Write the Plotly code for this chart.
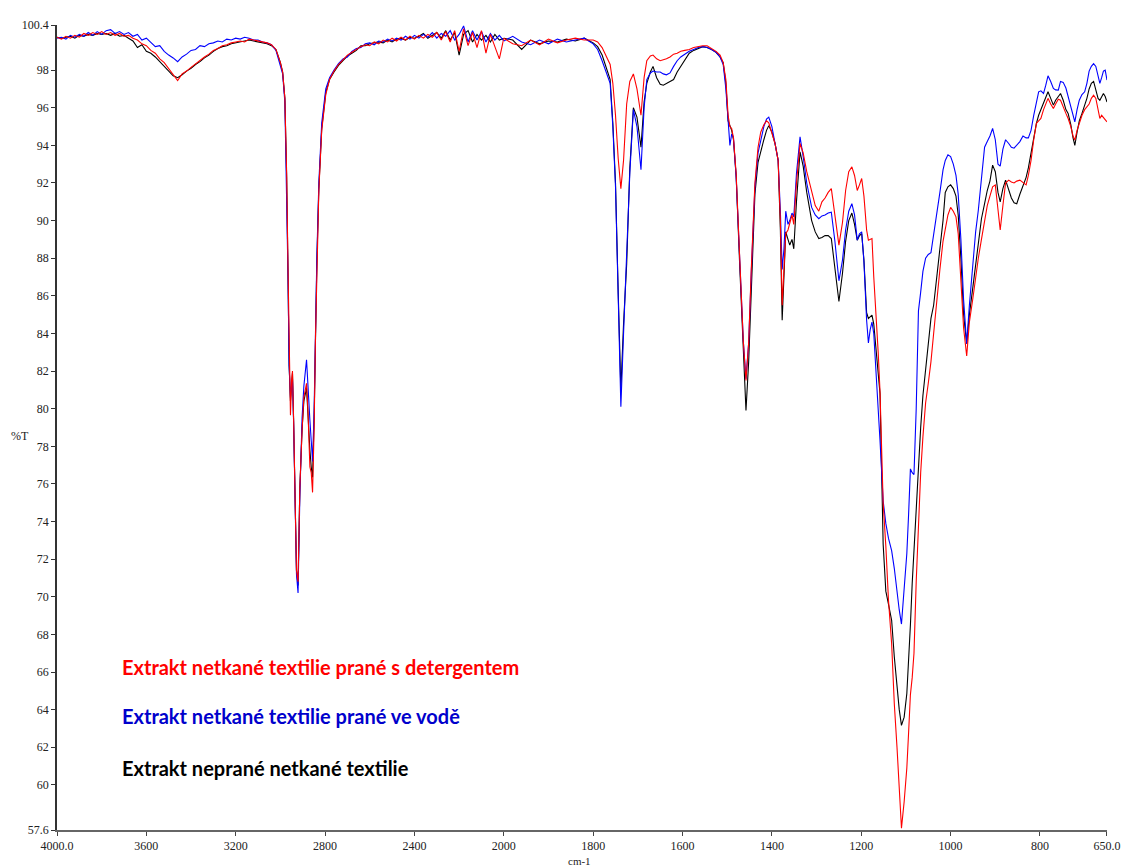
import plotly.graph_objects as go

# ---------------- data ----------------
wavenumber = [
    # 4000-3000
    4000, 3980, 3960, 3940, 3920, 3900, 3880, 3860, 3840, 3820,
    3800, 3780, 3760, 3740, 3720, 3700, 3680, 3660, 3640, 3620,
    3600, 3580, 3560, 3540, 3520, 3500, 3480, 3460, 3440, 3420,
    3400, 3380, 3360, 3340, 3320, 3300, 3280, 3260, 3240, 3220,
    3200, 3180, 3160, 3140, 3120, 3100, 3080, 3060, 3040, 3020, 3000,
    # 3000-2800
    2990, 2980, 2972, 2966, 2961, 2955, 2950, 2946, 2941, 2936,
    2928, 2921, 2913, 2903, 2895, 2883, 2877, 2868, 2862, 2856,
    2849, 2843, 2837, 2828, 2815, 2797,
    # 2800-2000
    2780, 2760, 2740, 2720, 2700, 2680, 2660, 2640, 2620, 2600,
    2580, 2560, 2540, 2520, 2500, 2480, 2460, 2440, 2420, 2400,
    2380, 2360, 2340, 2320, 2300, 2280, 2260, 2240, 2220, 2200,
    2180, 2160, 2140, 2120, 2100, 2080, 2060, 2040, 2020, 2000,
    # 2000-1800
    1980, 1960, 1940, 1920, 1900, 1880, 1860, 1840, 1820,
    # 1800-650
    1800, 1790, 1780, 1770, 1762, 1756, 1750, 1744, 1738, 1732,
    1725, 1718, 1710, 1702, 1693, 1686, 1680, 1672, 1666, 1658,
    1650, 1643, 1636, 1628, 1620, 1612, 1604, 1595, 1585, 1575,
    1565, 1555, 1545, 1535, 1525, 1516, 1509, 1503, 1498, 1494,
    1490, 1486, 1480, 1472, 1464, 1458, 1452, 1446, 1438, 1431,
    1425, 1418, 1412, 1407, 1400, 1393, 1386, 1381, 1377, 1373,
    1369, 1364, 1360, 1355, 1351, 1345, 1337, 1330, 1322, 1311,
    1303, 1295, 1288, 1281, 1274, 1267, 1259, 1250, 1242, 1235,
    1228, 1221, 1215, 1209, 1204, 1199, 1194, 1188, 1184, 1180,
    1176, 1172, 1167, 1162, 1158, 1151, 1145, 1139, 1132, 1126,
    1120, 1115, 1110, 1104, 1098, 1094, 1090, 1086, 1082, 1077,
    1072, 1067, 1062, 1056, 1050, 1044, 1038, 1031, 1024, 1017,
    1012, 1006, 1000, 994, 988, 983, 977, 971, 964, 958,
    950, 944, 938, 931, 924, 918, 912, 906, 900, 894,
    889, 883, 877, 870, 864, 858, 852, 845, 838, 831,
    826, 820, 814, 808, 803, 798, 792, 787, 782, 776,
    770, 765, 759, 754, 748, 742, 737, 731, 726, 722,
    717, 712, 706, 700, 695, 690, 685, 680, 675, 670,
    666, 662, 658, 654, 650,
]

# red: washed with detergent
t_detergent = [
    99.75, 99.65, 99.8, 99.7, 99.85, 99.75, 99.95, 99.85, 100.0, 99.9,
    100.05, 99.9, 100.0, 99.85, 99.95, 99.8, 99.85, 99.7, 99.6, 99.4,
    99.3, 99.05, 98.9, 98.6, 98.4, 98.1, 97.75, 97.45, 97.8, 97.95,
    98.15, 98.35, 98.5, 98.7, 98.85, 99.05, 99.15, 99.3, 99.35, 99.45,
    99.5, 99.55, 99.5, 99.65, 99.6, 99.55, 99.5, 99.45, 99.35, 99.1, 98.4,
    97.9, 96.5, 92.5, 87.5, 82.5, 79.65, 81.5, 82.0, 79.5, 76.2,
    71.4, 70.8, 75.8, 78.85, 80.6, 81.35, 80.0, 76.9, 76.6, 75.55,
    79.0, 83.8, 87.6, 91.6, 94.8, 96.7,
    97.5, 97.95, 98.3, 98.55, 98.8, 98.95, 99.1, 99.25, 99.35, 99.3,
    99.5, 99.4, 99.6, 99.5, 99.7, 99.55, 99.75, 99.6, 99.8, 99.65,
    99.85, 99.7, 99.9, 99.75, 100.0, 99.6, 100.05, 99.5, 100.1, 99.0,
    100.2, 99.3, 100.0, 99.2, 100.1, 98.9, 99.9, 99.3, 98.6, 99.7,
    99.4, 99.3, 99.6, 99.35, 99.65, 99.45, 99.6, 99.7, 99.6,
    99.6, 99.5, 99.2, 98.7, 98.3, 97.3, 95.6, 93.3, 91.7, 93.2,
    96.2, 97.4, 97.8, 97.0, 95.6, 97.6, 98.5, 98.75, 98.8, 98.6,
    98.5, 98.55, 98.6, 98.7, 98.85, 98.9, 99.0, 99.05, 99.1, 99.2,
    99.25, 99.3, 99.3, 99.15, 99.0, 98.8, 98.4, 97.5, 95.6, 95.0,
    94.9, 94.4, 92.5, 88.0, 83.6, 81.5, 83.5, 87.5, 92.0, 93.9,
    94.7, 95.1, 95.3, 95.2, 94.7, 94.1, 93.2, 90.0, 85.5, 87.5,
    89.3, 89.5, 89.9, 90.3, 89.8, 92.0, 94.1, 93.6, 92.6, 91.6,
    90.8, 90.5, 91.0, 91.2, 91.5, 91.7, 90.4, 88.7, 89.9, 91.6,
    92.6, 92.86, 92.4, 91.6, 91.9, 92.24, 91.3, 89.5, 88.96, 89.0,
    89.05, 87.0, 85.2, 82.95, 80.9, 75.0, 72.7, 69.8, 67.5, 64.3,
    62.0, 59.8, 57.7, 59.1, 60.9, 62.8, 64.8, 65.7, 67.0, 70.8,
    73.8, 76.6, 78.5, 80.3, 81.35, 82.5, 84.0, 85.8, 87.4, 88.9,
    89.6, 90.3, 90.7, 90.5, 90.2, 89.3, 86.8, 84.3, 82.8, 84.6,
    85.9, 87.1, 88.0, 89.0, 90.0, 90.8, 91.3, 91.8, 91.9, 90.4,
    89.5, 90.8, 92.0, 92.15, 92.05, 92.0, 92.1, 92.15, 92.0, 91.9,
    92.4, 93.2, 94.3, 95.17, 95.3, 95.43, 95.9, 96.2, 96.5, 96.2,
    95.96, 96.2, 96.45, 96.4, 96.0, 95.7, 95.43, 95.0, 94.5, 94.28,
    94.8, 95.2, 95.6, 95.9, 96.05, 96.2, 96.5, 96.67, 96.5, 95.9,
    95.43, 95.6, 95.5, 95.4, 95.25,
]

# blue: washed in water
t_water = [
    99.7, 99.75, 99.65, 99.85, 99.75, 99.9, 99.8, 100.0, 99.85, 100.05,
    99.9, 100.1, 100.15, 99.95, 100.05, 99.9, 100.0, 99.8, 99.9, 99.6,
    99.7, 99.45, 99.25, 99.3, 99.0, 98.8, 98.65, 98.45, 98.7, 98.85,
    99.05, 99.1, 99.3, 99.25, 99.4, 99.45, 99.55, 99.5, 99.65, 99.6,
    99.7, 99.65, 99.75, 99.7, 99.6, 99.6, 99.5, 99.45, 99.35, 99.05, 98.3,
    97.8, 96.3, 92.0, 87.0, 82.3, 80.6, 81.2, 81.6, 79.3, 76.0,
    71.2, 70.2, 75.3, 79.5, 81.2, 82.6, 81.0, 79.4, 78.3, 77.2,
    80.0, 84.3, 88.0, 92.0, 95.2, 97.0,
    97.6, 98.0, 98.35, 98.6, 98.7, 99.0, 99.15, 99.2, 99.4, 99.45,
    99.35, 99.55, 99.5, 99.65, 99.55, 99.7, 99.6, 99.8, 99.65, 99.85,
    99.7, 99.9, 99.75, 100.0, 99.7, 99.95, 99.8, 100.1, 99.6, 99.9,
    100.35, 99.5, 100.1, 99.6, 100.05, 99.5, 99.95, 99.6, 99.85, 99.55,
    99.8, 99.5, 99.35, 99.6, 99.4, 99.65, 99.5, 99.6, 99.7,
    99.4, 99.1, 98.5, 97.8, 97.3, 95.0, 91.8, 86.0, 80.1, 84.0,
    88.0, 92.5, 95.9, 95.0, 92.7, 96.0, 97.5, 97.85, 97.95, 97.9,
    97.9, 97.8, 97.75, 97.85, 98.2, 98.5, 98.7, 98.85, 99.0, 99.1,
    99.2, 99.25, 99.2, 99.1, 98.95, 98.7, 98.3, 97.0, 95.0, 94.0,
    94.6, 94.4, 92.3, 87.8, 83.6, 81.6, 83.5, 87.3, 91.8, 93.6,
    94.2, 95.0, 95.4, 95.5, 95.0, 94.1, 93.2, 90.5, 87.4, 88.5,
    90.5, 89.8, 90.0, 90.4, 90.2, 92.5, 94.45, 93.4, 92.0, 90.7,
    90.3, 90.1, 90.25, 90.3, 90.4, 90.45, 88.9, 86.8, 87.9, 89.5,
    90.5, 90.9, 90.3, 88.96, 89.3, 89.4, 87.8, 84.7, 83.5, 84.2,
    84.6, 84.0, 82.0, 80.2, 78.3, 75.1, 73.9, 73.1, 72.45, 71.5,
    70.2, 69.3, 68.55, 70.3, 72.3, 74.4, 76.8, 76.6, 76.5, 80.0,
    85.2, 86.2, 87.3, 88.0, 88.2, 88.3, 89.2, 90.2, 91.5, 92.7,
    93.2, 93.5, 93.4, 93.0, 92.4, 91.4, 89.0, 85.8, 83.46, 85.5,
    87.8, 89.4, 90.55, 92.2, 93.9, 94.2, 94.5, 94.9, 94.3, 93.0,
    92.9, 93.8, 94.3, 94.1, 93.9, 93.85, 94.0, 94.2, 94.5, 94.4,
    94.4, 94.8, 95.6, 96.3, 96.85, 96.9, 96.76, 97.2, 97.7, 97.4,
    97.03, 96.95, 96.94, 97.4, 97.35, 97.05, 96.6, 96.0, 95.5, 95.25,
    95.9, 96.4, 96.7, 96.85, 97.3, 97.95, 98.2, 98.35, 98.2, 97.6,
    97.3, 97.6, 97.95, 98.0, 97.47,
]

# black: unwashed
t_unwashed = [
    99.75, 99.7, 99.75, 99.8, 99.7, 99.85, 99.8, 99.9, 99.85, 99.95,
    99.9, 99.95, 99.85, 99.95, 99.8, 99.85, 99.7, 99.55, 99.2, 99.35,
    99.0, 98.9, 98.7, 98.45, 98.2, 98.0, 97.7, 97.6, 97.75, 97.95,
    98.1, 98.3, 98.45, 98.65, 98.8, 99.0, 99.15, 99.25, 99.3, 99.4,
    99.45, 99.5, 99.55, 99.6, 99.55, 99.5, 99.45, 99.4, 99.3, 99.1, 98.4,
    97.9, 96.5, 92.3, 87.2, 82.3, 80.4, 81.2, 81.9, 79.4, 76.2,
    71.4, 70.6, 75.8, 78.9, 80.4, 81.1, 79.6, 77.8, 76.9, 76.35,
    79.5, 84.0, 87.7, 91.7, 94.9, 96.8,
    97.5, 97.9, 98.25, 98.5, 98.75, 98.9, 99.05, 99.3, 99.3, 99.4,
    99.45, 99.5, 99.45, 99.6, 99.5, 99.65, 99.7, 99.6, 99.75, 99.7,
    99.8, 99.95, 99.7, 99.85, 100.0, 99.7, 100.1, 99.6, 100.0, 98.8,
    99.9, 100.1, 99.5, 99.9, 99.6, 99.85, 99.5, 99.9, 99.6, 99.7,
    99.6, 99.1, 99.6, 99.4, 99.55, 99.5, 99.65, 99.55, 99.7,
    99.45, 99.25, 98.8, 98.1, 97.5, 95.2, 92.0, 86.2, 81.0, 84.5,
    87.7, 92.8, 96.0, 95.5, 93.9, 96.3, 97.3, 97.9, 98.2, 97.6,
    97.25, 97.2, 97.3, 97.4, 97.5, 97.9, 98.2, 98.55, 98.9, 99.05,
    99.15, 99.25, 99.2, 99.1, 98.95, 98.7, 98.4, 97.3, 95.3, 95.0,
    94.8, 94.3, 92.4, 87.6, 83.1, 79.9, 82.5, 86.8, 91.4, 93.1,
    93.7, 94.3, 94.8, 95.05, 94.7, 94.1, 93.2, 89.5, 84.7, 87.0,
    89.4, 89.0, 88.7, 89.0, 88.5, 91.0, 93.66, 92.9, 91.5, 90.0,
    89.4, 89.05, 89.1, 89.2, 89.2, 89.05, 87.6, 85.7, 87.2, 88.9,
    90.0, 90.4, 89.8, 88.96, 89.2, 89.3, 87.9, 85.1, 84.8, 84.9,
    84.97, 84.5, 83.0, 81.9, 80.8, 72.8, 70.3, 69.6, 68.75, 66.8,
    65.2, 64.0, 63.16, 63.6, 64.86, 66.5, 68.5, 70.7, 72.5, 74.8,
    77.3, 79.0, 80.7, 82.0, 83.6, 84.8, 85.5, 87.0, 88.5, 90.0,
    91.5, 91.8, 91.9, 91.7, 91.3, 90.3, 88.0, 85.0, 83.46, 85.0,
    86.5, 87.6, 88.9, 90.1, 90.9, 91.6, 92.1, 92.95, 92.6, 91.5,
    91.0, 91.7, 92.15, 91.7, 91.2, 90.95, 90.9, 91.4, 91.9, 92.3,
    92.8, 93.6, 94.5, 95.17, 95.6, 95.9, 96.25, 96.6, 96.85, 96.5,
    96.14, 96.4, 96.6, 96.76, 96.4, 95.9, 95.7, 95.1, 94.4, 94.0,
    94.7, 95.3, 95.7, 96.1, 96.5, 97.0, 97.3, 97.4, 97.0, 96.5,
    96.4, 96.6, 96.76, 96.6, 96.3,
]

series_names = [
    "Extrakt neprané netkané textilie",
    "Extrakt netkané textilie prané ve vodě",
    "Extrakt netkané textilie prané s detergentem",
]
line_colors = ["#000000", "#0000FF", "#FF0000"]
label_colors = ["#000000", "#0000CC", "#FF0000"]
series_values = [t_unwashed, t_water, t_detergent]

x_ticks_high = [4000, 3600, 3200, 2800, 2400]
x_labels_high = ["4000.0", "3600", "3200", "2800", "2400"]
x_ticks_low = [2000, 1800, 1600, 1400, 1200, 1000, 800, 650]
x_labels_low = ["2000", "1800", "1600", "1400", "1200", "1000", "800", "650.0"]
y_ticks = [57.6, 60, 62, 64, 66, 68, 70, 72, 74, 76, 78, 80, 82, 84, 86,
           88, 90, 92, 94, 96, 98, 100.4]
y_labels = ["57.6", "60", "62", "64", "66", "68", "70", "72", "74", "76", "78",
            "80", "82", "84", "86", "88", "90", "92", "94", "96", "98", "100.4"]

for vals in series_values:
    assert len(vals) == len(wavenumber), (len(vals), len(wavenumber))

# ---------------- figure ----------------
SPLIT = 2000          # the instrument scale doubles below 2000 cm-1
split_frac = (4000 - SPLIT) / ((4000 - SPLIT) + 2 * (SPLIT - 650))

fig = go.Figure()
for name, vals, color in zip(series_names, series_values, line_colors):
    hi = [(w, v) for w, v in zip(wavenumber, vals) if w >= SPLIT]
    lo = [(w, v) for w, v in zip(wavenumber, vals) if w <= SPLIT]
    fig.add_trace(go.Scatter(
        x=[p[0] for p in hi], y=[p[1] for p in hi], xaxis="x", yaxis="y",
        mode="lines", line=dict(color=color, width=1.1), name=name,
        showlegend=False))
    fig.add_trace(go.Scatter(
        x=[p[0] for p in lo], y=[p[1] for p in lo], xaxis="x2", yaxis="y",
        mode="lines", line=dict(color=color, width=1.1), name=name,
        showlegend=False))

tick_font = dict(family="Liberation Serif", size=12, color="#222222")
axis_common = dict(showgrid=False, zeroline=False, showline=True,
                   linecolor="#666666", linewidth=2, ticks="outside",
                   ticklen=4, tickwidth=1, tickcolor="#444444",
                   tickfont=tick_font, tickmode="array", automargin=False)

fig.update_layout(
    width=1123, height=867,
    margin=dict(l=57, r=16, t=25, b=37),
    paper_bgcolor="white", plot_bgcolor="white",
    showlegend=False,
    xaxis=dict(domain=[0, split_frac], range=[4000, SPLIT], anchor="y",
               tickvals=x_ticks_high, ticktext=x_labels_high, **axis_common),
    xaxis2=dict(domain=[split_frac, 1], range=[SPLIT, 650], anchor="y",
                tickvals=x_ticks_low, ticktext=x_labels_low, **axis_common),
    yaxis=dict(range=[57.6, 100.4], anchor="x", tickvals=y_ticks,
               ticktext=y_labels, showgrid=False, zeroline=False,
               showline=True, linecolor="#333333", linewidth=1.5,
               ticks="outside", ticklen=4, tickcolor="#333333",
               tickfont=tick_font, automargin=False),
)

annotations = [
    dict(text="%T", xref="paper", yref="paper", x=-0.035, y=0.49,
         xanchor="center", yanchor="middle", showarrow=False, font=tick_font),
    dict(text="cm-1", xref="paper", yref="paper", x=0.498, y=-0.038,
         xanchor="center", yanchor="middle", showarrow=False,
         font=dict(family="Liberation Serif", size=11, color="#222222")),
]
label_y = [0.0776, 0.141, 0.203]
for name, color, ly in zip(series_names, label_colors, label_y):
    annotations.append(dict(
        text="<b>" + name + "</b>", xref="paper", yref="paper", x=0.06, y=ly,
        xanchor="left", yanchor="middle", showarrow=False,
        font=dict(family="Lato", size=20, color=color)))
fig.update_layout(annotations=annotations)

fig.write_html("out.html")
